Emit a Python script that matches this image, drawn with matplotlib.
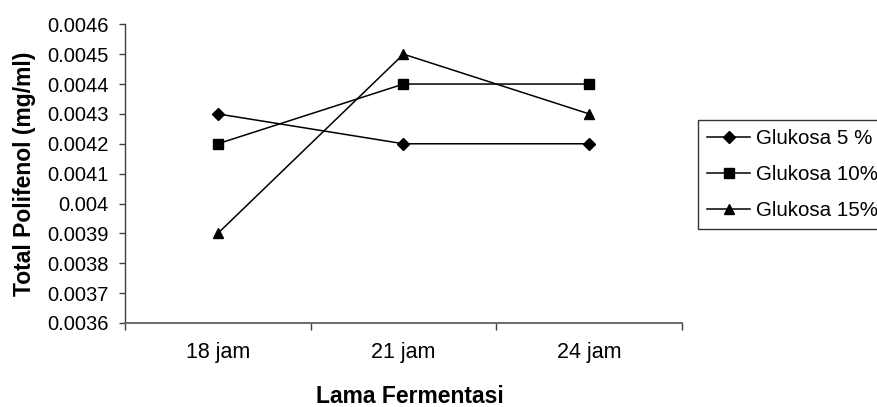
import matplotlib
matplotlib.use("Agg")
import matplotlib.pyplot as plt

categories = ["18 jam", "21 jam", "24 jam"]
glukosa_5 = [0.0043, 0.0042, 0.0042]
glukosa_10 = [0.0042, 0.0044, 0.0044]
glukosa_15 = [0.0039, 0.0045, 0.0043]
series_labels = ["Glukosa 5 %", "Glukosa 10%", "Glukosa 15%"]
y_ticks = [0.0036, 0.0037, 0.0038, 0.0039, 0.004, 0.0041, 0.0042, 0.0043, 0.0044, 0.0045, 0.0046]
y_tick_labels = ["0.0036", "0.0037", "0.0038", "0.0039", "0.004", "0.0041", "0.0042",
                 "0.0043", "0.0044", "0.0045", "0.0046"]

plt.rcParams['font.family'] = ['Liberation Sans', 'DejaVu Sans']

W, H = 878, 407
fig = plt.figure(figsize=(W / 100, H / 100), dpi=100)
left, right, top, bottom = 125, 682, 24.3, 323
ax = fig.add_axes([left / W, 1 - bottom / H, (right - left) / W, (bottom - top) / H])

x = list(range(len(categories)))
ax.plot(x, glukosa_5, color='black', lw=1.1, marker='D', ms=5.8, label=series_labels[0])
ax.plot(x, glukosa_10, color='black', lw=1.1, marker='s', ms=6.6, label=series_labels[1])
ax.plot(x, glukosa_15, color='black', lw=1.1, marker='^', ms=7.8, label=series_labels[2])

ax.set_xlim(-0.5, len(categories) - 0.5)
ax.set_ylim(0.0036, 0.0046)
ax.set_yticks(y_ticks)
ax.set_yticklabels(y_tick_labels)
ax.set_xticks(x)
ax.set_xticklabels(categories)
ax.set_xticks([-0.5, 0.5, 1.5, 2.5], minor=True)

ax.tick_params(axis='y', which='major', direction='out', length=4, width=1, color='#404040',
               labelsize=14.5, pad=8)
ax.tick_params(axis='x', which='major', length=0, labelsize=15.5, pad=14)
ax.tick_params(axis='x', which='minor', direction='out', length=5, width=1, color='#404040')

for s in ['top', 'right']:
    ax.spines[s].set_visible(False)
ax.spines['left'].set_color('#404040')
ax.spines['bottom'].set_color('#606060')
ax.spines['left'].set_linewidth(1)
ax.spines['bottom'].set_linewidth(1.3)

ax.set_xlabel("Lama Fermentasi", fontsize=16.5, fontweight='bold')
ax.xaxis.label.set_va('baseline')
ax_h = bottom - top
ax.xaxis.set_label_coords((410 - left) / (right - left), -(403 - bottom) / ax_h)
ax.set_ylabel("Total Polifenol (mg/ml)", fontsize=16.5, fontweight='bold', labelpad=8)

leg = ax.legend(loc='upper left', bbox_to_anchor=(698 / W, 1 - 120 / H),
                bbox_transform=fig.transFigure, frameon=True, fancybox=False,
                edgecolor='black', fontsize=14.8, handlelength=2.1, handletextpad=0.25,
                borderpad=0.45, labelspacing=0.82, borderaxespad=0)
leg.get_frame().set_linewidth(1)

fig.savefig("out.png", dpi=100)
